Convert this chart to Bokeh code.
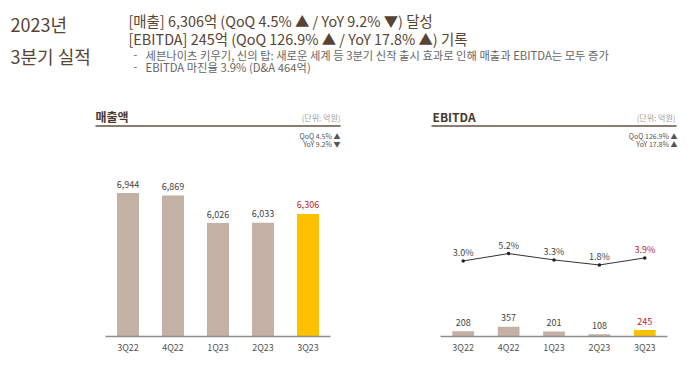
from bokeh.plotting import figure
from bokeh.models import Range1d, FactorRange, ColumnDataSource
from bokeh.layouts import column, row
from bokeh.embed import file_html
from bokeh.resources import INLINE
from bokeh.core.properties import value

# ---------------- data ----------------
quarters = ["3Q22", "4Q22", "1Q23", "2Q23", "3Q23"]
revenue = [6944, 6869, 6026, 6033, 6306]
ebitda = [208, 357, 201, 108, 245]
ebitda_margin = [3.0, 5.2, 3.3, 1.8, 3.9]

headline = ["2023년", "3분기 실적"]
summary = ["[매출] 6,306억 (QoQ 4.5% ▲ / YoY 9.2% ▼) 달성",
           "[EBITDA] 245억 (QoQ 126.9% ▲ / YoY 17.8% ▲) 기록"]
bullets = ["세븐나이츠 키우기, 신의 탑: 새로운 세계 등 3분기 신작 출시 효과로 인해 매출과 EBITDA는 모두 증가",
           "EBITDA 마진율 3.9% (D&A 464억)"]
chart_titles = ["매출액", "EBITDA"]
unit_label = "(단위: 억원)"
rev_change = ["QoQ 4.5% ▲", "YoY 9.2% ▼"]
ebitda_change = ["QoQ 126.9% ▲", "YoY 17.8% ▲"]

# ---------------- style ----------------
KR = "Noto Sans CJK KR"
BROWN = "#574434"
GRAYTXT = "#666666"
BAR = "#c3b1a6"
HILITE = "#ffc000"
RED = "#b8262c"
AXIS = "#8f8f8f"

bar_colors = [BAR] * (len(quarters) - 1) + [HILITE]
lbl_colors = ["#444444"] * (len(quarters) - 1) + [RED]


def base(width, height, **kw):
    p = figure(width=width, height=height, output_backend="svg",
               toolbar_location=None, **kw)
    p.outline_line_color = None
    p.grid.visible = False
    p.background_fill_color = "white"
    p.border_fill_color = "white"
    return p


# ---------------- header ----------------
HW, HH = 700, 156
hdr = base(HW, HH, x_range=Range1d(0, HW), y_range=Range1d(HH, 0),
           x_axis_location=None, y_axis_location=None, min_border=0)
hdr.text(x=[10, 10], y=[23, 55], text=headline, text_font=value(KR),
         text_font_size="18px", text_color=BROWN, text_baseline="middle")
hdr.text(x=[128, 128], y=[19.5, 38], text=summary, text_font=value(KR),
         text_font_size="14.4px", text_color=BROWN, text_baseline="middle")
hdr.text(x=[133, 133], y=[54.5, 66.5], text=["-", "-"], text_font=value(KR),
         text_font_size="11px", text_color=GRAYTXT, text_baseline="middle")
hdr.text(x=[145, 145], y=[54.5, 66.5], text=bullets, text_font=value(KR),
         text_font_size="11.3px", text_color=GRAYTXT, text_baseline="middle")

# chart titles / units / changes
hdr.text(x=[95, 432], y=[115.5, 115.5], text=chart_titles, text_font=value(KR),
         text_font_size="12px", text_font_style="bold", text_color="#4a3a2e",
         text_baseline="middle")
hdr.segment(x0=[95, 431], y0=[125.5, 125.5], x1=[340, 676], y1=[125.5, 125.5],
            line_color="#8c7b6f", line_width=2)
hdr.text(x=[340, 675], y=[116.5, 116.5], text=[unit_label, unit_label],
         text_font=value(KR), text_font_size="8px", text_color="#a0a0a0",
         text_align="right", text_baseline="middle")
hdr.text(x=[340, 340], y=[135, 143.5], text=rev_change, text_font=value(KR),
         text_font_size="7px", text_color="#555555", text_align="right",
         text_baseline="middle")
hdr.text(x=[677, 677], y=[135, 143.5], text=ebitda_change, text_font=value(KR),
         text_font_size="7px", text_color="#555555", text_align="right",
         text_baseline="middle")


def style_axis(p):
    ax = p.xaxis[0]
    ax.axis_line_color = AXIS
    ax.axis_line_width = 1.5
    ax.major_tick_line_color = None
    ax.minor_tick_line_color = None
    ax.major_tick_out = 0
    ax.major_label_standoff = 4
    ax.major_label_text_font = KR
    ax.major_label_text_font_size = "9px"
    ax.major_label_text_color = "#555555"


# ---------------- revenue chart ----------------
rev_lo, rev_hi = 2550, 8065
src_r = ColumnDataSource(dict(q=quarters, v=revenue, c=bar_colors, lc=lbl_colors,
                              lbl=[f"{v:,}" for v in revenue]))
pl = base(350, 200, x_range=FactorRange(*quarters), y_range=Range1d(rev_lo, rev_hi),
          y_axis_location=None, min_border_left=105, min_border_right=20,
          min_border_top=0, min_border_bottom=18)
pl.vbar(x="q", top="v", bottom=rev_lo, width=0.49, fill_color="c",
        line_color=None, source=src_r)
pl.text(x="q", y="v", text="lbl", text_color="lc", text_font=value(KR),
        text_font_size="9px", text_align="center", text_baseline="middle",
        y_offset=-9, source=src_r)
style_axis(pl)

# ---------------- EBITDA chart ----------------
eb_lo, eb_hi = 34, 5937
src_e = ColumnDataSource(dict(q=quarters, v=ebitda, m=ebitda_margin, c=bar_colors,
                              lc=lbl_colors, lbl=[str(v) for v in ebitda],
                              mlbl=[f"{m:.1f}%" for m in ebitda_margin]))
pr = base(350, 200, x_range=FactorRange(*quarters), y_range=Range1d(eb_lo, eb_hi),
          y_axis_location=None, min_border_left=90, min_border_right=33,
          min_border_top=0, min_border_bottom=18)
pr.extra_y_ranges = {"m": Range1d(-19.5, 34.1)}
pr.vbar(x="q", top="v", bottom=eb_lo, width=0.48, fill_color="c",
        line_color=None, source=src_e)
pr.text(x="q", y="v", text="lbl", text_color="lc", text_font=value(KR),
        text_font_size="9px", text_align="center", text_baseline="middle",
        y_offset=-9, source=src_e)
pr.line(x="q", y="m", y_range_name="m", line_color="#333333", line_width=1,
        source=src_e)
pr.scatter(x="q", y="m", y_range_name="m", size=3.5, fill_color="#222222",
           line_color=None, source=src_e)
pr.text(x="q", y="m", y_range_name="m", text="mlbl", text_color="lc",
        text_font=value(KR), text_font_size="9px", text_align="center",
        text_baseline="middle", y_offset=-8, source=src_e)
style_axis(pr)

layout = column(hdr, row(pl, pr))
open("out.html", "w").write(file_html(layout, INLINE))
